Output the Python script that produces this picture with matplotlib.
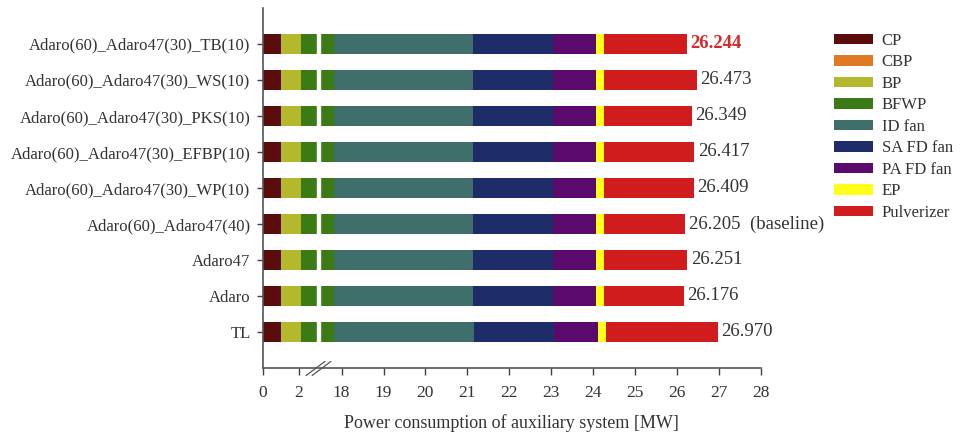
import numpy as np
import matplotlib
matplotlib.use('Agg')
import matplotlib.pyplot as plt
from matplotlib.transforms import offset_copy

plt.rcParams['font.family'] = ['Liberation Serif', 'DejaVu Serif']

# cases, from bottom to top
cases = ['TL', 'Adaro', 'Adaro47', 'Adaro(60)_Adaro47(40)',
         'Adaro(60)_Adaro47(30)_WP(10)', 'Adaro(60)_Adaro47(30)_EFBP(10)',
         'Adaro(60)_Adaro47(30)_PKS(10)', 'Adaro(60)_Adaro47(30)_WS(10)',
         'Adaro(60)_Adaro47(30)_TB(10)']
totals = [26.970, 26.176, 26.251, 26.205, 26.409, 26.417, 26.349, 26.473, 26.244]

# power of each auxiliary [MW]
cp = [1.00, 1.00, 1.00, 1.00, 1.00, 1.00, 1.00, 1.00, 1.00]
cbp = [0.03, 0.03, 0.03, 0.03, 0.03, 0.03, 0.03, 0.03, 0.03]
bp = [1.08, 1.08, 1.08, 1.08, 1.08, 1.08, 1.08, 1.08, 1.08]
bfwp = [15.71, 15.71, 15.71, 15.71, 15.71, 15.71, 15.71, 15.71, 15.71]
id_fan = [3.35, 3.31, 3.31, 3.31, 3.31, 3.31, 3.31, 3.31, 3.31]
sa_fan = [1.90, 1.91, 1.91, 1.91, 1.91, 1.91, 1.91, 1.91, 1.91]
pa_fan = [1.05, 1.02, 1.02, 1.02, 1.02, 1.02, 1.02, 1.02, 1.02]
ep = [0.18, 0.19, 0.19, 0.19, 0.19, 0.19, 0.19, 0.19, 0.19]
pulv = [2.670, 1.926, 2.001, 1.955, 2.159, 2.167, 2.099, 2.223, 1.994]

names = ['CP', 'CBP', 'BP', 'BFWP', 'ID fan', 'SA FD fan', 'PA FD fan', 'EP', 'Pulverizer']
colors = ['#5a0c0c', '#e07a22', '#b3b82c', '#3b7a14', '#3e6f6b',
          '#1f2c6a', '#5a0a6c', '#ffff1a', '#d01c1c']
parts = [cp, cbp, bp, bfwp, id_fan, sa_fan, pa_fan, ep, pulv]

# broken axis: 0-3 squeezed, 3-17.48 hidden, 17.48-28 normal
bx = [-10, 0, 3, 17.48, 60]
bu = [-4.27, 0, 1.281, 1.355, 43.875]
def fwd(v):
    return np.interp(v, bx, bu)
def inv(u):
    return np.interp(u, bu, bx)

fig = plt.figure(figsize=(9.6, 4.37), dpi=100)
ax = fig.add_axes([0.274, 0.158, 0.5184, 0.824])
ax.set_xscale('function', functions=(fwd, inv))

y = np.arange(len(cases))
left = np.zeros(len(cases))
for vals, name, c in zip(parts, names, colors):
    ax.barh(y, vals, left=left, height=0.57, color=c, label=name, zorder=2)
    left = left + np.array(vals)

ax.axvspan(3, 17.48, ymin=0.01, ymax=1, color='white', zorder=3)

for i, t in enumerate(totals):
    if i == len(totals) - 1:
        ax.text(t + 0.08, y[i], '%.3f' % t, va='center', ha='left', fontsize=13.5,
                color='#d42a2a', fontweight='bold')
    elif cases[i] == 'Adaro(60)_Adaro47(40)':
        ax.text(t + 0.08, y[i], '%.3f  (baseline)' % t, va='center', ha='left',
                fontsize=13.5, color='#333333')
    else:
        ax.text(t + 0.08, y[i], '%.3f' % t, va='center', ha='left', fontsize=13.5,
                color='#333333')

ax.set_xlim(0, 28)
ax.set_ylim(-1, 9)
ax.set_xticks([0, 2] + list(range(18, 29)))
ax.set_xticklabels(['0', '2'] + [str(v) for v in range(18, 29)])
ax.set_yticks(y)
ax.set_yticklabels(cases)
ax.minorticks_off()
ax.tick_params(axis='y', length=4, width=1, pad=5, labelsize=12, colors='#404040',
               labelcolor='#333333')
ax.tick_params(axis='x', length=5, width=1, pad=7, labelsize=12.5, colors='#404040',
               labelcolor='#333333')
ax.set_xlabel('Power consumption of auxiliary system [MW]', fontsize=13,
              color='#333333', labelpad=10)

for s in ['top', 'right']:
    ax.spines[s].set_visible(False)
for s in ['left', 'bottom']:
    ax.spines[s].set_color('#555555')
    ax.spines[s].set_linewidth(1.2)

# break marks on the x axis
for dx in (-1.0, 3.0):
    tr = offset_copy(ax.get_xaxis_transform(), fig=fig, x=dx, y=0, units='points')
    ax.plot([3], [0], marker=[(-1, -0.75), (1, 0.75)], markersize=14, color='#555555',
            mew=0.9, transform=tr, clip_on=False, zorder=5)

ax.legend(loc='upper left', bbox_to_anchor=(0.869, 0.925),
          bbox_transform=fig.transFigure, frameon=False, fontsize=12,
          handlelength=2.3, handleheight=0.6, handletextpad=0.55,
          labelspacing=0.33, borderpad=0, borderaxespad=0, labelcolor='#333333')

fig.savefig('out.png', dpi=100)
